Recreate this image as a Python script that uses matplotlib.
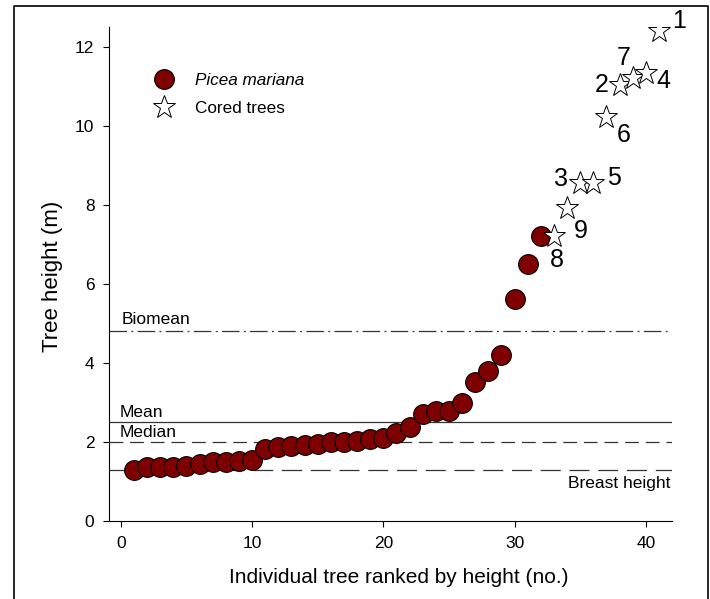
import matplotlib.pyplot as plt
from matplotlib.lines import Line2D

plt.rcParams['font.family'] = ['Liberation Sans', 'DejaVu Sans']

# Picea mariana trees ranked by height
rank_pm = list(range(1, 33))
height_pm = [1.30, 1.37, 1.38, 1.38, 1.40, 1.45, 1.49, 1.50, 1.52, 1.55,
             1.82, 1.88, 1.91, 1.93, 1.96, 1.99, 1.99, 2.03, 2.07, 2.11,
             2.23, 2.39, 2.72, 2.79, 2.79, 3.00, 3.51, 3.79, 4.21, 5.61,
             6.51, 7.21]

# cored trees (stars) and their labels
rank_cored = [33, 34, 35, 36, 37, 38, 39, 40, 41]
height_cored = [7.23, 7.93, 8.55, 8.55, 10.22, 11.03, 11.23, 11.35, 12.42]
cored_id = ["8", "9", "3", "5", "6", "2", "7", "4", "1"]
# label offsets in pixels (dx, dy)
id_offset = [(3, -24), (14, -23), (-19, 4), (21, 5), (17, -18),
             (-18, 0), (-9, 20), (18, -8), (20, 10)]

# reference lines
ref_names = ["Biomean", "Mean", "Median", "Breast height"]
ref_values = [4.8, 2.5, 2.0, 1.3]

fig = plt.figure(figsize=(7.1, 5.99), dpi=100)
ax = fig.add_axes([0.1535, 0.1302, 0.793, 0.824])

# horizontal lines
ax.axhline(ref_values[0], color="#333333", lw=0.9, dashes=(14, 3.5, 1.5, 3.5))
ax.axhline(ref_values[1], color="#333333", lw=0.9)
ax.axhline(ref_values[2], color="#333333", lw=0.9, dashes=(11, 5.5))
ax.axhline(ref_values[3], color="#333333", lw=0.9, dashes=(16, 7))

ax.text(0.1, ref_values[0] + 0.12, ref_names[0], fontsize=12.5, va="bottom")
ax.text(-0.1, ref_values[1] + 0.06, ref_names[1], fontsize=12.5, va="bottom")
ax.text(-0.1, ref_values[2] + 0.06, ref_names[2], fontsize=12.5, va="bottom")
ax.text(41.9, ref_values[3] - 0.15, ref_names[3], fontsize=12.5, va="top", ha="right")

ax.plot(rank_pm, height_pm, "o", ms=14.2, mfc="#7f0000", mec="black", mew=0.8,
        zorder=3)
ax.plot(rank_cored, height_cored, "*", ms=17, mfc="white", mec="black",
        mew=0.7, zorder=4)

for x, y, s, off in zip(rank_cored, height_cored, cored_id, id_offset):
    ax.annotate(s, (x, y), xytext=off, textcoords="offset pixels",
                ha="center", va="center", fontsize=18)

# legend
handles = [Line2D([], [], ls="", marker="o", ms=14.2, mfc="#7f0000", mec="black",
                  mew=0.8),
           Line2D([], [], ls="", marker="*", ms=17, mfc="white", mec="black",
                  mew=0.7)]
leg = ax.legend(handles, ["Picea mariana", "Cored trees"], loc="upper left",
                bbox_to_anchor=(0.055, 0.922), frameon=False, fontsize=12.3,
                handletextpad=0.8, labelspacing=0.75, borderaxespad=0)
leg.get_texts()[0].set_style("italic")

ax.set_xlim(-0.9, 42)
ax.set_ylim(0, 12.5)
ax.set_xticks([0, 10, 20, 30, 40])
ax.set_yticks([0, 2, 4, 6, 8, 10, 12])
ax.spines["top"].set_visible(False)
ax.spines["right"].set_visible(False)
ax.tick_params(direction="out", length=4.5, width=0.8, labelsize=12.5, pad=6)
ax.set_xlabel("Individual tree ranked by height (no.)", fontsize=15, va="center")
ax.set_ylabel("Tree height (m)", fontsize=16, va="center")
ax.xaxis.set_label_coords(0.515, -0.115)
ax.yaxis.set_label_coords(-0.0995, 0.496)

# outer frame (open at the bottom)
fx0, fx1, fy1 = 13.5 / 710, 707.5 / 710, 1 - 5.5 / 599
fig.add_artist(Line2D([fx0, fx0, fx1, fx1], [0, fy1, fy1, 0], color="black",
                      lw=1.2, transform=fig.transFigure))

fig.savefig("out.png", dpi=100)
